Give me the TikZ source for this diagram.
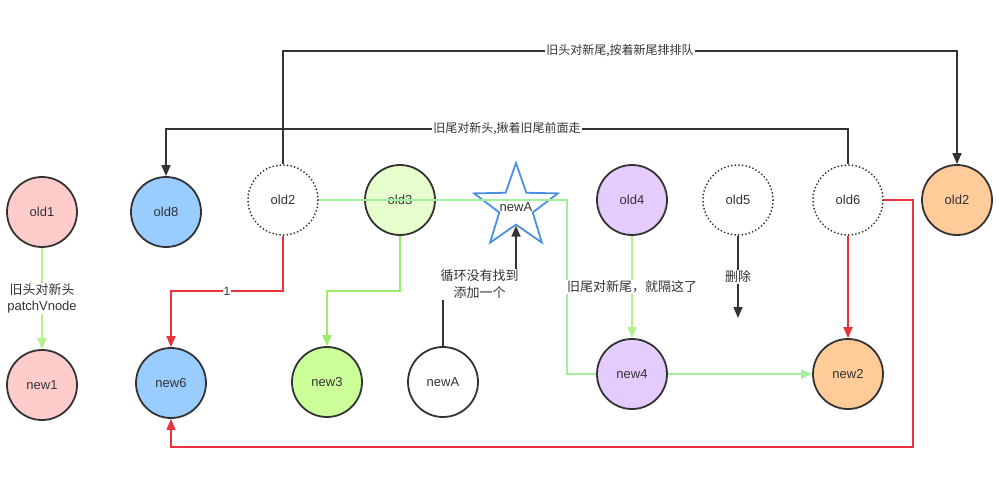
\documentclass[tikz,border=0pt]{standalone}
\usepackage{fontspec}
\setmainfont{Liberation Sans}
\newfontfamily\cjk{Noto Sans CJK SC}
\usetikzlibrary{arrows.meta,shapes.geometric,calc}
\definecolor{ink}{HTML}{333333}
\definecolor{pinkfill}{HTML}{FFCCCC}
\definecolor{bluefill}{HTML}{99CCFF}
\definecolor{palegreen}{HTML}{E6FFCC}
\definecolor{limefill}{HTML}{CCFF99}
\definecolor{lilac}{HTML}{E5CCFF}
\definecolor{peach}{HTML}{FFCC99}
\definecolor{leaf}{HTML}{B5F08C}
\definecolor{mint}{HTML}{A3EFA0}
\definecolor{lime}{HTML}{9EEB6A}
\definecolor{alarm}{HTML}{E8333C}
\definecolor{sky}{HTML}{4A90E2}

\begin{document}
\begin{tikzpicture}[x=1pt, y=-1pt,
  vn/.style={circle, draw=ink, line width=1.8pt, minimum size=70pt, inner sep=0pt, text=ink, font=\fontsize{13}{15}\selectfont},
  gone/.style={vn, line width=2pt, line cap=round, dash pattern=on 0pt off 3.6pt},
  wire/.style={line width=1.7pt, rounded corners=0pt},
  tip/.style={-{Triangle[length=11pt, width=9pt]}},
  lbl/.style={fill=white, inner sep=1pt, text=ink, align=center, font=\fontsize{13}{16}\selectfont},
  cjklbl/.style={lbl, font=\cjk\fontsize{13}{17}\selectfont},
  toplbl/.style={lbl, font=\cjk\fontsize{12}{14}\selectfont}
]
\useasboundingbox (0,0) rectangle (999,490);

% old row
\node[vn, fill=pinkfill] (old1) at (42,212) {old1};
\node[vn, fill=bluefill] (old8) at (166,212) {old8};
\node[gone] (old2) at (283,200) {old2};
\node[vn, fill=palegreen] (old3) at (400,200) {old3};
\node[star, star points=5, star point ratio=2.5, minimum size=88pt, inner sep=0pt,
      draw=sky, line width=1.8pt, fill=white,
      label={[text=ink, font=\fontsize{13}{15}\selectfont]center:newA}] (starA) at (516,207) {};
\node[vn, fill=lilac] (old4) at (632,200) {old4};
\node[gone] (old5) at (738,200) {old5};
\node[gone] (old6) at (848,200) {old6};
\node[vn, fill=peach] (old2r) at (957,200) {old2};

% new row
\node[vn, fill=pinkfill] (new1) at (42,385) {new1};
\node[vn, fill=bluefill] (new6) at (171,383) {new6};
\node[vn, fill=limefill] (new3) at (327,382) {new3};
\node[vn, fill=white] (newA) at (443,382) {newA};
\node[vn, fill=lilac] (new4) at (632,374) {new4};
\node[vn, fill=peach] (new2) at (848,374) {new2};

\coordinate (bendA) at (567,200);
\coordinate (del) at (738,318);
\coordinate (loopR) at (913,200);
\coordinate (loopB) at (913,447);

% head / tail matches
\draw[wire, tip, leaf] (old1) -- node[lbl] {{\cjk 旧头对新头}\\patchVnode} (new1);
\draw[wire, tip, alarm] (old2.south) -- ++(0,55) -| node[pos=0.25, lbl, font=\fontsize{12}{14}\selectfont] {1} (new6.north);
\draw[wire, tip, lime] (old3.south) -- ++(0,55) -| (new3.north);
\draw[wire, mint] (old2.east) -- (bendA) |- (new4.west);
\draw[wire, tip, leaf] (old4) -- node[cjklbl] {旧尾对新尾，就隔这了} (new4);
\draw[wire, tip, mint] (new4) -- (new2);
\draw[wire, tip, ink] (old5) -- node[cjklbl] {删除} (del);
\draw[wire, tip, alarm] (old6) -- (new2);
\draw[wire, tip, alarm] (old6.east) -- (loopR) -- (loopB) -| (new6.south);
\draw[wire, tip, ink] (newA.north) -- ++(0,-62) -| node[pos=0.25, cjklbl] {循环没有找到\\添加一个} (starA.south);

% crossing moves
\draw[wire, tip, ink] (old6.north) -- ++(0,-35) -| node[pos=0.25, toplbl] {旧尾对新头,揪着旧尾前面走} (old8.north);
\draw[wire, tip, ink] (old2.north) -- ++(0,-113) -| node[pos=0.25, toplbl] {旧头对新尾,按着新尾排排队} (old2r.north);
\end{tikzpicture}
\end{document}
